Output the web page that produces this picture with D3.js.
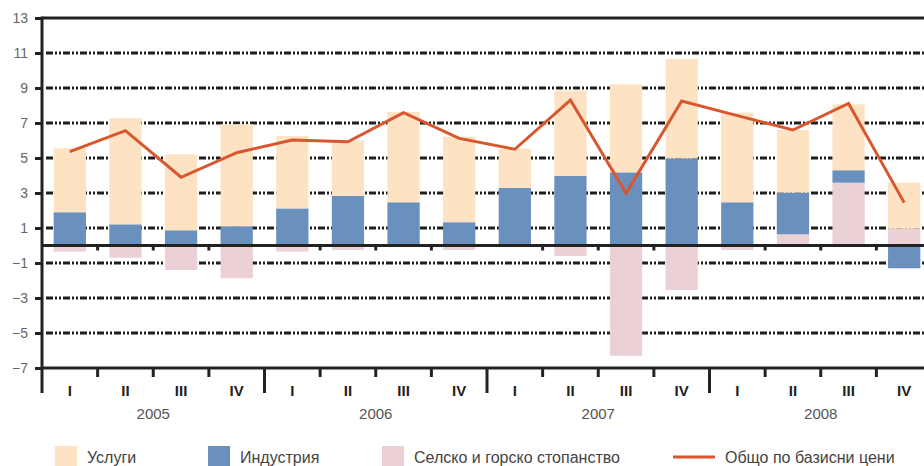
<!DOCTYPE html>
<html>
<head>
<meta charset="utf-8">
<script src="https://cdn.jsdelivr.net/npm/d3@7"></script>
<style>
  body { margin: 0; background: #fff; }
  svg text { font-family: "Liberation Sans", Arial, sans-serif; }
</style>
</head>
<body>
<div id="chart"></div>
<script>
var years = ["2005", "2006", "2007", "2008"]
var quarterLabels = ["I", "II", "III", "IV"]
var yTicks = [-7, -5, -3, -1, 1, 3, 5, 7, 9, 11, 13]

// values by quarter, 2005 I .. 2008 IV
var services = [3.65, 6.06, 4.34, 5.83, 4.14, 3.17, 5.16, 4.89, 2.24, 4.88, 5.03, 5.68, 5.12, 3.58, 3.77, 2.63]
var industry = [1.9, 1.21, 0.87, 1.1, 2.12, 2.83, 2.47, 1.33, 3.29, 3.97, 4.18, 4.98, 2.47, 2.38, 0.71, -1.3]
var agriculture = [-0.35, -0.7, -1.4, -1.87, -0.35, -0.26, 0, -0.26, 0, -0.6, -6.3, -2.54, -0.26, 0.64, 3.59, 0.96]
var total = [5.36, 6.56, 3.9, 5.3, 6.03, 5.93, 7.59, 6.12, 5.5, 8.31, 2.98, 8.26, 7.42, 6.6, 8.12, 2.45]

var seriesNames = ["Услуги", "Индустрия", "Селско и горско стопанство", "Общо по базисни цени"]

var width = 924, height = 466
var plotLeft = 42, plotRight = 932, plotTop = 18, plotBottom = 368

var categories = []
years.forEach(y => quarterLabels.forEach(q => categories.push(y + " " + q)))

var rows = categories.map((c, i) => ({
  cat: c, agri: agriculture[i], ind: industry[i], serv: services[i], total: total[i]
}))

var colors = { agri: "#ebd0d6", ind: "#6a90bd", serv: "#fde2c3" }

var svg = d3.select("#chart")
  .append("svg")
  .attr("width", width)
  .attr("height", height)

var xScale = d3.scaleBand()
  .domain(categories)
  .range([plotLeft, plotRight])
  .paddingInner(0.42)
  .paddingOuter(0.21)

var step = xScale.step()
var bandStart = c => xScale(c) - xScale.paddingOuter() * step

var yScale = d3.scaleLinear()
  .domain([-7, 13])
  .range([plotBottom, plotTop])

// dash-dot grid lines
svg.append("g")
  .selectAll("line")
  .data(yTicks.filter(d => d > -7 && d < 13))
  .enter()
  .append("line")
  .attr("x1", plotLeft + 4)
  .attr("x2", width)
  .attr("y1", d => yScale(d))
  .attr("y2", d => yScale(d))
  .attr("stroke", "#1e1e1e")
  .attr("stroke-width", 3)
  .attr("stroke-dasharray", "7,2,2,2,2,2")

// stacked bars
var stack = d3.stack()
  .keys(["agri", "ind", "serv"])
  .offset(d3.stackOffsetDiverging)

svg.append("g")
  .selectAll("g")
  .data(stack(rows))
  .enter()
  .append("g")
  .attr("fill", d => colors[d.key])
  .selectAll("rect")
  .data(d => d)
  .enter()
  .append("rect")
  .attr("x", d => xScale(d.data.cat))
  .attr("width", xScale.bandwidth())
  .attr("y", d => yScale(Math.max(d[0], d[1])))
  .attr("height", d => Math.abs(yScale(d[0]) - yScale(d[1])))

// frame: top border and zero line
svg.append("line")
  .attr("x1", plotLeft).attr("x2", width)
  .attr("y1", plotTop).attr("y2", plotTop)
  .attr("stroke", "#222").attr("stroke-width", 3)

svg.append("line")
  .attr("x1", plotLeft).attr("x2", width)
  .attr("y1", yScale(0)).attr("y2", yScale(0))
  .attr("stroke", "#222").attr("stroke-width", 3)

// Y axis
svg.append("g")
  .attr("transform", `translate(${plotLeft},0)`)
  .attr("class", "y-axis")
  .call(d3.axisLeft(yScale).tickValues(yTicks).tickSize(7).tickPadding(7))
  .call(g => g.select(".domain").remove())
  .call(g => g.selectAll("line").attr("stroke", "#222").attr("stroke-width", 3))
  .call(g => g.selectAll("text").attr("font-size", "14px").attr("fill", "#666"))

svg.append("line")
  .attr("x1", plotLeft).attr("x2", plotLeft)
  .attr("y1", plotTop - 1.5).attr("y2", plotBottom + 25)
  .attr("stroke", "#222").attr("stroke-width", 3)

// X axis
svg.append("line")
  .attr("x1", plotLeft).attr("x2", width)
  .attr("y1", plotBottom).attr("y2", plotBottom)
  .attr("stroke", "#222").attr("stroke-width", 3)

// quarter ticks on zero line and x axis
var innerBounds = categories.filter((c, i) => i % 4 !== 0)
svg.append("g")
  .selectAll("line")
  .data(innerBounds)
  .enter()
  .append("line")
  .attr("x1", d => bandStart(d)).attr("x2", d => bandStart(d))
  .attr("y1", yScale(0)).attr("y2", yScale(0) + 5)
  .attr("stroke", "#222").attr("stroke-width", 3)

svg.append("g")
  .selectAll("line")
  .data(innerBounds)
  .enter()
  .append("line")
  .attr("x1", d => bandStart(d)).attr("x2", d => bandStart(d))
  .attr("y1", plotBottom).attr("y2", plotBottom + 9)
  .attr("stroke", "#222").attr("stroke-width", 3)

// year separators
svg.append("g")
  .selectAll("line")
  .data(categories.filter((c, i) => i % 4 === 0 && i > 0))
  .enter()
  .append("line")
  .attr("x1", d => bandStart(d)).attr("x2", d => bandStart(d))
  .attr("y1", plotBottom).attr("y2", plotBottom + 25)
  .attr("stroke", "#222").attr("stroke-width", 3)

// quarter labels
svg.append("g")
  .selectAll("text")
  .data(categories)
  .enter()
  .append("text")
  .attr("x", d => xScale(d) + xScale.bandwidth() / 2)
  .attr("y", plotBottom + 28)
  .attr("text-anchor", "middle")
  .attr("font-size", "15px")
  .attr("font-weight", "bold")
  .attr("fill", "#222")
  .text(d => d.split(" ")[1])

// year labels
svg.append("g")
  .selectAll("text")
  .data(years)
  .enter()
  .append("text")
  .attr("x", (d, i) => bandStart(categories[i * 4]) + step * 2)
  .attr("y", plotBottom + 51)
  .attr("text-anchor", "middle")
  .attr("font-size", "15px")
  .attr("fill", "#555")
  .text(d => d)

// total line
var line = d3.line()
  .x(d => xScale(d.cat) + xScale.bandwidth() / 2)
  .y(d => yScale(d.total))

svg.append("path")
  .datum(rows)
  .attr("d", line)
  .attr("fill", "none")
  .attr("stroke", "#d9562e")
  .attr("stroke-width", 3)

// legend
var legendX = [55, 208, 382, 673]
var legendY = 457
var legendFill = [colors.serv, colors.ind, colors.agri]

var legend = svg.append("g")
legend.selectAll("rect")
  .data(legendFill)
  .enter()
  .append("rect")
  .attr("x", (d, i) => legendX[i])
  .attr("y", legendY - 11)
  .attr("width", 22)
  .attr("height", 22)
  .attr("fill", d => d)

legend.append("line")
  .attr("x1", legendX[3]).attr("x2", legendX[3] + 42)
  .attr("y1", legendY).attr("y2", legendY)
  .attr("stroke", "#d9562e").attr("stroke-width", 3)

legend.selectAll("text")
  .data(seriesNames)
  .enter()
  .append("text")
  .attr("x", (d, i) => i < 3 ? legendX[i] + 32 : legendX[i] + 52)
  .attr("y", legendY + 6)
  .attr("font-size", "16px")
  .attr("fill", "#444")
  .text(d => d)
</script>
</body>
</html>
